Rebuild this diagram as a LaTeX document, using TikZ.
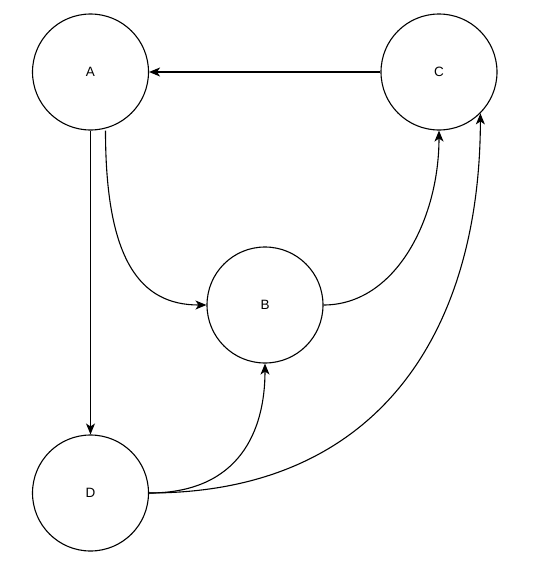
\documentclass[tikz,border=0pt]{standalone}
\usepackage{fontspec}
\setmainfont{Liberation Sans}
\usetikzlibrary{arrows.meta}
\begin{document}
\begin{tikzpicture}[x=1pt,y=-1pt,
  state/.style={circle,draw,line width=1.1pt,minimum size=116pt,inner sep=0pt,font=\fontsize{13.5}{15}\selectfont},
  conn/.style={line width=1.1pt,-{Stealth[length=11pt,width=9pt,inset=3pt]}}]
\useasboundingbox (0,0) rectangle (535,562);
\node[state] (A) at (90.5,72) {A};
\node[state] (C) at (439,72) {C};
\node[state] (B) at (265,305) {B};
\node[state] (D) at (90.5,493) {D};
\draw[conn] (C.west) -- (A.east);
\draw[conn] (A.south) -- (D.north);
\draw[conn] ([xshift=15pt]A.south) .. controls (105.5,260) and (140,305) .. (B.west);
\draw[conn] (B.east) .. controls (395,305) and (439,220) .. (C.south);
\draw[conn] (D.east) .. controls (240,493) and (265,430) .. (B.south);
\draw[conn] (D.east) .. controls (380,493) and (480,330) .. (C.-45);
\end{tikzpicture}
\end{document}
